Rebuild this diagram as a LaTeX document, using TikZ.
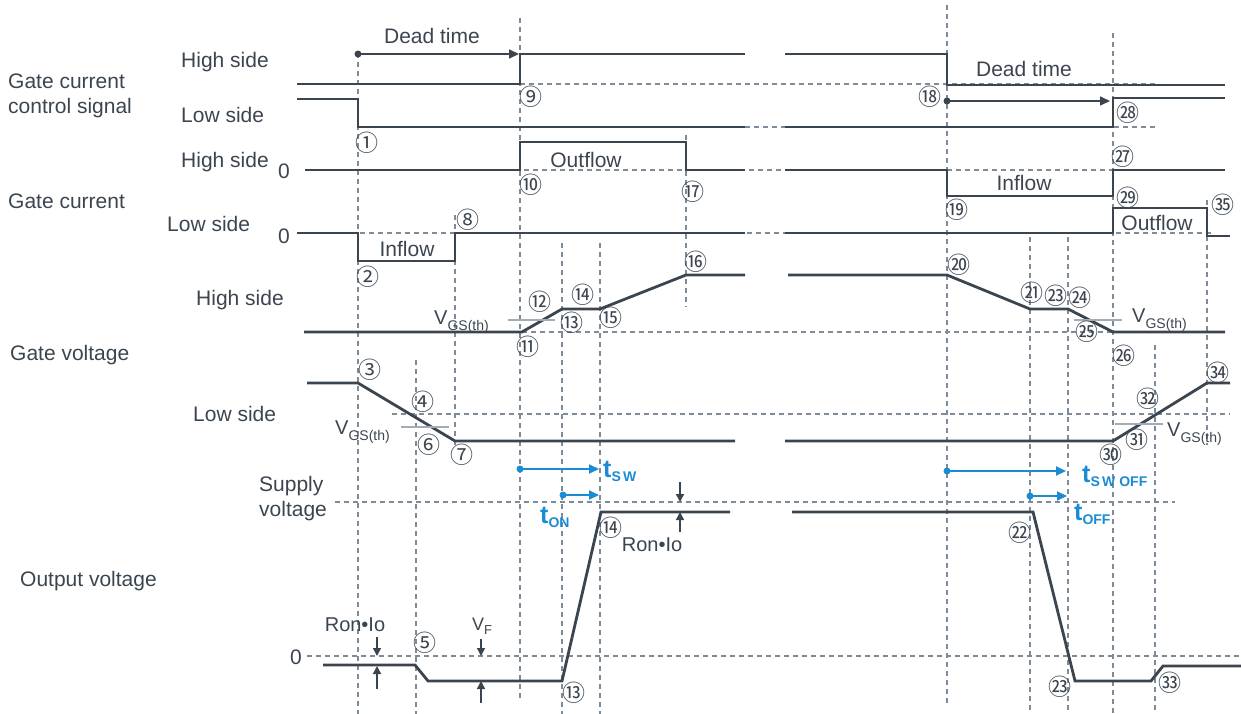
\documentclass[tikz,border=0pt]{standalone}
\usepackage{fontspec}
\setmainfont{Liberation Sans}
\newfontfamily\cjk{Noto Sans CJK JP}
\usetikzlibrary{arrows.meta}

\definecolor{trait}{HTML}{3B4550}
\definecolor{gris}{HTML}{7E8C9A}
\definecolor{seuil}{HTML}{A2ACB5}
\definecolor{bleu}{HTML}{1B8BD3}

% indices
\newcommand{\vgs}{V\raisebox{-6pt}{\fontsize{14}{14}\selectfont GS(th)}}
\newcommand{\tsub}[1]{t\raisebox{-4pt}{\fontsize{14}{14}\selectfont #1}}

\tikzset{
  sig/.style={draw=trait, line width=2.8pt},
  grille/.style={draw=gris, line width=1.4pt, dash pattern=on 5pt off 4pt},
  lab/.style={text=trait, font=\fontsize{21}{25}\selectfont, inner sep=0pt},
  num/.style={text=trait, font=\cjk\fontsize{23}{23}\selectfont, inner sep=0pt},
  vlab/.style={text=trait, font=\fontsize{20}{20}\selectfont, inner sep=0pt, anchor=base west},
  fleche/.style={draw=trait, line width=1.6pt, -{Triangle[length=10pt,width=9pt]}},
  tsw/.style={draw=bleu, line width=1.8pt, -{Triangle[length=10pt,width=9pt]}},
  tlab/.style={text=bleu, font=\fontsize{25}{25}\selectfont\bfseries, inner sep=0pt, anchor=base west},
  cote/.style={draw=trait, line width=1.5pt, -{Triangle[length=8pt,width=8pt]}},
  vth/.style={draw=seuil, line width=1.8pt},
}

\begin{document}
\begin{tikzpicture}[x=1pt,y=-1pt]
\useasboundingbox (0,0) rectangle (1241,714);

% lignes verticales
\draw[grille] (358,53)--(358,714);
\draw[grille] (416,360)--(416,714);
\draw[grille] (455,215)--(455,445);
\draw[grille] (520,18)--(520,700);
\draw[grille] (562,243)--(562,714);
\draw[grille] (600,243)--(600,714);
\draw[grille] (686,135)--(686,307);
\draw[grille] (947,5)--(947,705);
\draw[grille] (1030,237)--(1030,714);
\draw[grille] (1068,237)--(1068,714);
\draw[grille] (1113,33)--(1113,714);
\draw[grille] (1155,345)--(1155,714);
\draw[grille] (1207,200)--(1207,445);

% lignes horizontales
\draw[grille] (520,84)--(1155,84);
\draw[grille] (358,127)--(1155,127);
\draw[grille] (497,170)--(1225,170);
\draw[grille] (297,233)--(1212,233);
\draw[grille] (495,332)--(1225,332);
\draw[grille] (392,414)--(1230,414);
\draw[grille] (335,502)--(1175,502);
\draw[grille] (307,656)--(1241,656);

% signal de commande
\draw[sig] (297,84)--(520,84)--(520,54)--(745,54);
\draw[sig] (785,54)--(947,54)--(947,85)--(1225,85);
\draw[sig] (297,99)--(358,99)--(358,127)--(745,127);
\draw[sig] (785,127)--(1113,127)--(1113,98)--(1225,98);

% courant de grille
\draw[sig] (305,170)--(520,170)--(520,142)--(686,142)--(686,170)--(745,170);
\draw[sig] (785,170)--(947,170)--(947,196)--(1113,196)--(1113,170)--(1225,170);
\draw[sig] (297,233)--(358,233)--(358,261)--(455,261)--(455,233)--(745,233);
\draw[sig] (785,233)--(1113,233)--(1113,208)--(1207,208)--(1207,236)--(1230,236);

% tension de grille
\draw[sig] (304,332)--(522,332)--(562,309)--(600,309)--(686,275)--(745,275);
\draw[sig] (788,275)--(947,275)--(1030,309)--(1068,309)--(1113,332)--(1225,332);
\draw[sig] (307,383)--(358,383)--(455,441)--(735,441);
\draw[sig] (785,441)--(1113,441)--(1207,383)--(1230,383);
\draw[vth] (508,320)--(555,320);
\draw[vth] (401,427)--(449,427);
\draw[vth] (1074,320)--(1122,320);
\draw[vth] (1115,424)--(1163,424);

% tension de sortie
\draw[sig] (323,665)--(415,665)--(428,681)--(562,681)--(601,512)--(730,512);
\draw[sig] (792,512)--(1033,512)--(1075,681)--(1151,681)--(1163,666)--(1241,666);

% temps mort
\coordinate (dta) at (358,54);
\coordinate (dtb) at (519,54);
\coordinate (dtc) at (947,101);
\coordinate (dtd) at (1110,101);
\fill[trait] (dta) circle (3.5pt);
\fill[trait] (dtc) circle (3.5pt);
\draw[fleche] (dta)--(dtb);
\draw[fleche] (dtc)--(dtd);

% temps de commutation
\coordinate (swa) at (520,469);
\coordinate (swb) at (599,469);
\coordinate (ona) at (563,495);
\coordinate (onb) at (599,495);
\coordinate (sfa) at (947,471);
\coordinate (sfb) at (1066,471);
\coordinate (ofa) at (1030,496);
\coordinate (ofb) at (1067,496);
\fill[bleu] (swa) circle (3.5pt);
\fill[bleu] (ona) circle (3.5pt);
\fill[bleu] (sfa) circle (3.5pt);
\fill[bleu] (ofa) circle (3.5pt);
\draw[tsw] (swa)--(swb);
\draw[tsw] (ona)--(onb);
\draw[tsw] (sfa)--(sfb);
\draw[tsw] (ofa)--(ofb);
\node[tlab] (tsw) at (603,477) {\tsub{S\,W}};
\node[tlab] (ton) at (540,523) {\tsub{ON}};
\node[tlab] (tswoff) at (1082,482) {\tsub{S\,W OFF}};
\node[tlab] (toff) at (1074,520) {\tsub{OFF}};

% cotes
\coordinate (ra) at (377,637);
\coordinate (rb) at (377,656);
\coordinate (rc) at (377,689);
\coordinate (rd) at (377,666);
\coordinate (fa) at (481,639);
\coordinate (fb) at (481,656);
\coordinate (fc) at (481,703);
\coordinate (fd) at (481,681);
\coordinate (sa) at (680,482);
\coordinate (sb) at (680,502);
\coordinate (sc) at (680,532);
\coordinate (sd) at (680,512);
\draw[cote] (ra)--(rb);
\draw[cote] (rc)--(rd);
\draw[cote] (fa)--(fb);
\draw[cote] (fc)--(fd);
\draw[cote] (sa)--(sb);
\draw[cote] (sc)--(sd);
\node[lab,font=\fontsize{20}{20}\selectfont] (ron1) at (355,625) {Ron•Io};
\node[lab,font=\fontsize{20}{20}\selectfont] (ron2) at (652,545) {Ron•Io};
\node[vlab,font=\fontsize{18}{18}\selectfont] (vf) at (472,630) {V\raisebox{-4pt}{\fontsize{13}{13}\selectfont F}};

% seuils
\node[vlab] (vth1) at (434,324) {\vgs};
\node[vlab] (vth2) at (335,434) {\vgs};
\node[vlab] (vth3) at (1132,322) {\vgs};
\node[vlab] (vth4) at (1167,436) {\vgs};

% titres
\node[lab,anchor=west,align=left] (gccs) at (8,96) {Gate current\\control signal};
\node[lab,anchor=west] (cshs) at (181,62) {High side};
\node[lab,anchor=west] (csls) at (181,115) {Low side};
\node[lab,anchor=west] (gchs) at (181,162) {High side};
\node[lab] (gchz) at (284,171) {0};
\node[lab,anchor=west] (gc) at (8,201) {Gate current};
\node[lab,anchor=west] (gcls) at (167,224) {Low side};
\node[lab] (gclz) at (284,236) {0};
\node[lab,anchor=west] (gvhs) at (196,300) {High side};
\node[lab,anchor=west] (gv) at (10,355) {Gate voltage};
\node[lab,anchor=west] (gvls) at (193,414) {Low side};
\node[lab,anchor=west,align=left] (sv) at (259,499) {Supply\\voltage};
\node[lab,anchor=west] (ov) at (20,581) {Output voltage};
\node[lab] (ovz) at (296,657) {0};

% textes
\node[lab] (dt1) at (432,36) {Dead time};
\node[lab] (dt2) at (1024,69) {Dead time};
\node[lab] (of1) at (586,160) {Outflow};
\node[lab] (if1) at (1024,183) {Inflow};
\node[lab] (if2) at (407,249) {Inflow};
\node[lab] (of2) at (1157,223) {Outflow};

% numeros
\node[num] (c1) at (367,143) {①};
\node[num] (c2) at (368,277) {②};
\node[num] (c3) at (370,370) {③};
\node[num] (c4) at (423,402) {④};
\node[num] (c5) at (425,643) {⑤};
\node[num] (c6) at (429,445) {⑥};
\node[num] (c7) at (462,455) {⑦};
\node[num] (c8) at (468,220) {⑧};
\node[num] (c9) at (531,97) {⑨};
\node[num] (c10) at (531,185) {⑩};
\node[num] (c11) at (528,347) {⑪};
\node[num] (c12) at (540,302) {⑫};
\node[num] (c13) at (572,323) {⑬};
\node[num] (c13b) at (574,693) {⑬};
\node[num] (c14) at (583,295) {⑭};
\node[num] (c14b) at (611,528) {⑭};
\node[num] (c15) at (611,318) {⑮};
\node[num] (c16) at (696,262) {⑯};
\node[num] (c17) at (693,192) {⑰};
\node[num] (c18) at (930,97) {⑱};
\node[num] (c19) at (957,210) {⑲};
\node[num] (c20) at (959,265) {⑳};
\node[num] (c21) at (1032,293) {㉑};
\node[num] (c22) at (1020,533) {㉒};
\node[num] (c23) at (1056,296) {㉓};
\node[num] (c23b) at (1060,687) {㉓};
\node[num] (c24) at (1080,298) {㉔};
\node[num] (c25) at (1087,332) {㉕};
\node[num] (c26) at (1124,356) {㉖};
\node[num] (c27) at (1123,157) {㉗};
\node[num] (c28) at (1128,113) {㉘};
\node[num] (c29) at (1128,198) {㉙};
\node[num] (c30) at (1111,455) {㉚};
\node[num] (c31) at (1137,440) {㉛};
\node[num] (c32) at (1148,399) {㉜};
\node[num] (c33) at (1170,683) {㉝};
\node[num] (c34) at (1218,373) {㉞};
\node[num] (c35) at (1223,205) {㉟};
\end{tikzpicture}
\end{document}
